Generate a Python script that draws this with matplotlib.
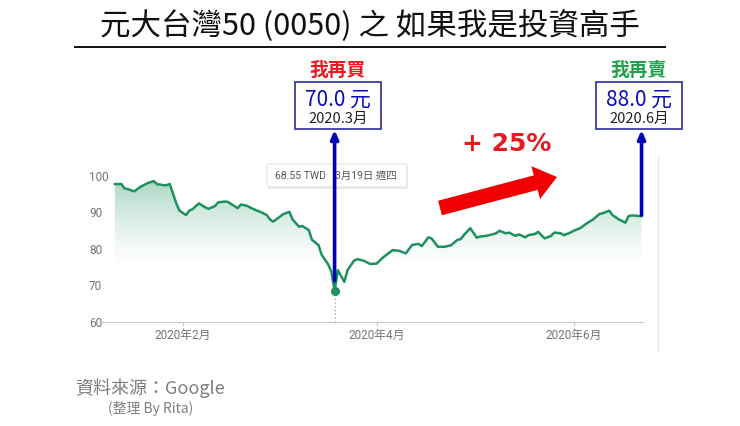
import numpy as np
import matplotlib
matplotlib.use('Agg')
import matplotlib.pyplot as plt
import matplotlib.dates as mdates
from matplotlib.transforms import Affine2D
from matplotlib.patches import FancyArrow, FancyBboxPatch, Rectangle
from matplotlib.lines import Line2D

plt.rcParams['font.family'] = ['Noto Sans CJK TC', 'DejaVu Sans']

# price of 0050
dates = ['2020-01-11', '2020-01-13', '2020-01-14', '2020-01-15', '2020-01-17', '2020-01-19',
         '2020-01-20', '2020-01-21', '2020-01-23', '2020-01-24', '2020-01-26', '2020-01-27',
         '2020-01-28', '2020-01-30', '2020-01-31', '2020-02-02', '2020-02-03', '2020-02-04',
         '2020-02-06', '2020-02-08', '2020-02-09', '2020-02-11', '2020-02-12', '2020-02-14',
         '2020-02-15', '2020-02-16', '2020-02-18', '2020-02-19', '2020-02-21', '2020-02-22',
         '2020-02-24', '2020-02-25', '2020-02-27', '2020-02-28', '2020-02-29', '2020-03-02',
         '2020-03-03', '2020-03-05', '2020-03-06', '2020-03-08', '2020-03-09', '2020-03-11',
         '2020-03-12', '2020-03-14', '2020-03-15', '2020-03-17', '2020-03-18', '2020-03-19',
         '2020-03-20', '2020-03-22', '2020-03-23', '2020-03-25', '2020-03-26', '2020-03-28',
         '2020-03-30', '2020-04-01', '2020-04-03', '2020-04-06', '2020-04-08', '2020-04-10',
         '2020-04-12', '2020-04-14', '2020-04-15', '2020-04-17', '2020-04-18', '2020-04-20',
         '2020-04-22', '2020-04-24', '2020-04-26', '2020-04-27', '2020-04-28', '2020-04-30',
         '2020-05-02', '2020-05-03', '2020-05-05', '2020-05-08', '2020-05-09', '2020-05-11',
         '2020-05-12', '2020-05-14', '2020-05-15', '2020-05-17', '2020-05-18', '2020-05-20',
         '2020-05-21', '2020-05-23', '2020-05-25', '2020-05-26', '2020-05-28', '2020-05-29',
         '2020-05-31', '2020-06-01', '2020-06-03', '2020-06-05', '2020-06-07', '2020-06-09',
         '2020-06-10', '2020-06-12', '2020-06-13', '2020-06-15', '2020-06-17', '2020-06-18',
         '2020-06-19', '2020-06-22']
prices = [97.8, 97.8, 96.6, 96.4, 95.8, 97.1,
          97.5, 98.0, 98.6, 97.8, 97.5, 97.5,
          97.8, 92.5, 90.5, 89.3, 90.5, 90.9,
          92.5, 91.4, 91.0, 91.8, 92.8, 93.0,
          92.9, 92.3, 91.2, 92.2, 91.8, 91.3,
          90.5, 90.2, 89.3, 88.1, 87.5, 88.8,
          89.5, 90.2, 88.1, 86.1, 86.3, 85.2,
          82.5, 81.1, 78.4, 75.8, 73.8, 68.55,
          74.2, 71.0, 74.2, 76.8, 77.2, 76.8,
          75.9, 76.0, 77.7, 79.7, 79.5, 78.8,
          81.1, 81.4, 80.8, 83.2, 82.9, 80.6,
          80.6, 81.0, 82.5, 82.7, 83.8, 85.7,
          83.1, 83.4, 83.6, 84.3, 85.0, 84.3,
          84.5, 83.6, 84.0, 83.2, 83.8, 84.1,
          84.7, 82.9, 83.6, 84.5, 84.3, 83.8,
          84.5, 85.0, 85.7, 87.0, 88.1, 89.6,
          89.8, 90.5, 89.3, 88.1, 87.2, 89.0,
          89.2, 89.0]

low_date = '2020-03-19'
low_price = 68.55
buy_arrow_price = 71.3
sell_arrow_price = 89.3
tick_dates = ['2020-02-01', '2020-04-01', '2020-06-01']
tick_labels = ['2020年2月', '2020年4月', '2020年6月']
y_ticks = [60, 70, 80, 90, 100]

title = '元大台灣50 (0050) 之 如果我是投資高手'
buy_label, buy_price, buy_month = '我再買', '70.0 元', '2020.3月'
sell_label, sell_price, sell_month = '我再賣', '88.0 元', '2020.6月'
gain = '+ 25%'
tooltip_price, tooltip_date = '68.55 TWD', '3月19日 週四'

W, H = 740, 426
green = '#1e9160'
blue = '#0000b8'
grey = '#757575'

fig = plt.figure(figsize=(W / 100, H / 100), dpi=100)
# pixel coordinates, y down
P = Affine2D().scale(1 / W, -1 / H).translate(0, 1) + fig.transFigure

ax = fig.add_axes([102 / W, (H - 322) / H, 541 / W, (322 - 172.35) / H])
x = mdates.datestr2num(dates)
feb1 = mdates.datestr2num('2020-02-01')
x0, x1 = feb1 - 24.99, feb1 + 142.45

# gradient fill under the line
poly = ax.fill_between(x, prices, 60, color='none', lw=0)
yy = np.linspace(60, 101, 300)
alpha = 0.4 * np.clip((yy - 74) / 26, 0, None) ** 1.5
grad = np.zeros((300, 1, 4))
grad[:, 0, :3] = matplotlib.colors.to_rgb(green)
grad[:, 0, 3] = np.clip(alpha, 0, 0.45)
im = ax.imshow(grad, extent=[x0, x1, 60, 101], origin='lower', aspect='auto', zorder=1)
im.set_clip_path(poly.get_paths()[0], transform=ax.transData)

ax.plot(x, prices, color=green, lw=1.8, zorder=3, solid_joinstyle='round')
lx = mdates.datestr2num(low_date)
ax.plot([lx, lx], [60, low_price], ls=(0, (1, 2)), color='#999999', lw=0.9, zorder=2)
ax.plot(lx, low_price, 'o', ms=5.5, color=green, zorder=4)

ax.set_xlim(x0, x1)
ax.set_ylim(60, 101)
for s in ['top', 'right', 'left']:
    ax.spines[s].set_visible(False)
ax.spines['bottom'].set_color('#c8c8c8')
ax.set_yticks(y_ticks)
ax.tick_params(axis='y', length=0, pad=9.4, labelsize=8.5, labelcolor=grey)
for lab in ax.get_yticklabels():
    lab.set_horizontalalignment('left')
    lab.set_family(['Roboto', 'DejaVu Sans'])
ax.set_xticks(mdates.datestr2num(tick_dates))
ax.set_xticklabels(tick_labels, family=['Roboto', 'Noto Sans CJK TC'])
ax.tick_params(axis='x', length=3, color='#c8c8c8', pad=2, labelsize=8.5, labelcolor=grey)

# tooltip
ax.add_patch(Rectangle((268, 165), 140, 24, transform=P, clip_on=False,
                       facecolor='#ececec', edgecolor='none', zorder=5))
ax.add_patch(FancyBboxPatch((267, 164), 140, 23, boxstyle='round,pad=0,rounding_size=2',
                            transform=P, clip_on=False, facecolor='white',
                            edgecolor='#e2e2e2', lw=0.8, zorder=5.2))
ax.text(275, 176, tooltip_price, transform=P, fontsize=7.5, color='#555555', va='center',
        family=['Roboto', 'DejaVu Sans'], zorder=5.5)
ax.text(335, 176, tooltip_date, transform=P, fontsize=7.5, color='#555555', va='center',
        family=['Roboto', 'Noto Sans CJK TC'], zorder=5.5)

# blue arrows from the price to the boxes
arrow_style = dict(arrowstyle='-|>,head_length=0.5,head_width=0.22', color=blue, lw=2.6,
                   shrinkA=0, shrinkB=0)
ax.annotate('', xy=(lx, 60 + (322 - 130) / 3.65), xytext=(lx, buy_arrow_price),
            arrowprops=arrow_style, annotation_clip=False, zorder=6)
ax.annotate('', xy=(x[-1], 60 + (322 - 130) / 3.65), xytext=(x[-1], sell_arrow_price),
            arrowprops=arrow_style, annotation_clip=False, zorder=6)

# title
fig.text(370, 26, title, transform=P, fontsize=22, ha='center', va='center', color='#111111')
fig.add_artist(Line2D([75, 665], [47, 47], transform=P, color='#111111', lw=1.4))

# buy / sell boxes
for cx, head, hcol, price, month in [(338, buy_label, '#e8191f', buy_price, buy_month),
                                     (639, sell_label, '#1fa34a', sell_price, sell_month)]:
    fig.text(cx, 70, head, transform=P, fontsize=13.5, fontweight='bold', color=hcol,
             ha='center', va='center')
    fig.add_artist(Rectangle((cx - 43, 82), 86, 47, transform=P, facecolor='white',
                             edgecolor='#3d3d9c', lw=1.3))
    fig.text(cx, 100, price, transform=P, fontsize=15, color='#0d0db4', ha='center', va='center')
    fig.text(cx, 119, month, transform=P, fontsize=10.5, color='#222222', ha='center', va='center')

# red arrow and gain
fig.add_artist(FancyArrow(440, 208, 117, -31, width=15, head_width=34, head_length=22,
                          length_includes_head=True, transform=P, color='#f00000', lw=0))
fig.text(507, 144, gain, transform=P, fontsize=18, fontweight='bold', color='#e8191f',
         ha='center', va='center', family=['DejaVu Sans'])

# panel edge
fig.add_artist(Line2D([658, 658], [157, 352], transform=P, color='#e6e6e6', lw=1))

# source
fig.text(75, 388, '資料來源：Google', transform=P, fontsize=13, color='#7f7f7f', va='center')
fig.text(108, 409, '(整理 By Rita)', transform=P, fontsize=10, color='#7f7f7f', va='center')

fig.savefig('out.png', dpi=100)
